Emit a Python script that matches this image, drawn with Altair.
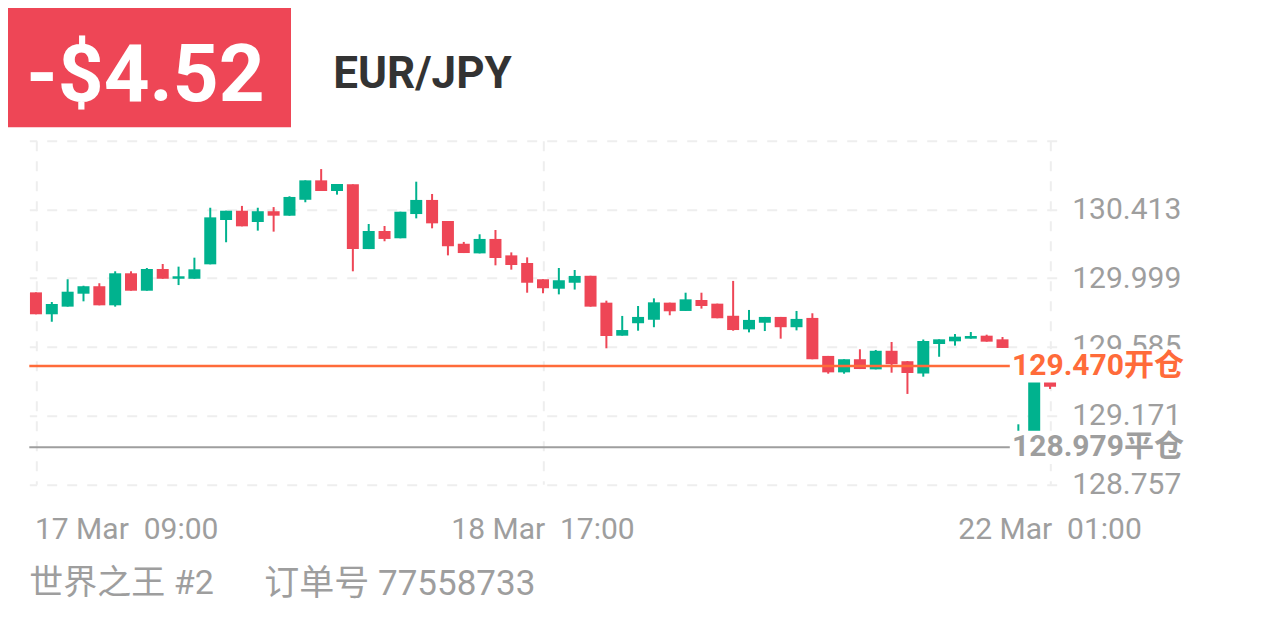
import altair as alt
import pandas as pd

# ---- data (hourly EUR/JPY candles) ----
opens = [129.913, 129.781, 129.827, 129.905, 129.950, 129.835, 130.028, 129.923, 130.054, 129.995,
         129.995, 130.082, 130.349, 130.405, 130.337, 130.402, 130.375, 130.471, 130.588, 130.524,
         130.564, 130.174, 130.283, 130.239, 130.385, 130.470, 130.343, 130.206, 130.148, 130.235,
         130.136, 130.090, 129.992, 129.935, 129.971, 130.013, 129.851, 129.652, 129.727, 129.748,
         129.851, 129.801, 129.867, 129.845, 129.772, 129.690, 129.730, 129.765, 129.703, 129.759,
         129.530, 129.431, 129.510, 129.449, 129.561, 129.498, 129.424, 129.602, 129.618, 129.634,
         129.652, 129.630, 128.963, 128.951, 129.385]
highs = [129.913, 129.855, 129.992, 129.953, 129.968, 130.040, 130.040, 130.060, 130.084, 130.068,
         130.122, 130.423, 130.405, 130.434, 130.423, 130.427, 130.492, 130.588, 130.656, 130.566,
         130.564, 130.325, 130.313, 130.399, 130.580, 130.506, 130.343, 130.217, 130.263, 130.289,
         130.154, 130.124, 129.992, 130.060, 130.048, 130.013, 129.863, 129.771, 129.831, 129.877,
         129.851, 129.911, 129.911, 129.845, 129.982, 129.807, 129.765, 129.765, 129.801, 129.787,
         129.530, 129.510, 129.570, 129.566, 129.614, 129.499, 129.629, 129.630, 129.662, 129.674,
         129.658, 129.644, 129.118, 129.445, 129.397]
lows = [129.781, 129.736, 129.827, 129.859, 129.835, 129.827, 129.923, 129.923, 129.995, 129.957,
        129.995, 130.082, 130.215, 130.311, 130.285, 130.279, 130.375, 130.456, 130.524, 130.502,
        130.040, 130.174, 130.221, 130.239, 130.359, 130.299, 130.136, 130.150, 130.148, 130.076,
        130.050, 129.911, 129.907, 129.901, 129.930, 129.827, 129.576, 129.652, 129.682, 129.703,
        129.775, 129.801, 129.815, 129.757, 129.682, 129.672, 129.680, 129.634, 129.684, 129.510,
        129.423, 129.423, 129.451, 129.449, 129.429, 129.301, 129.405, 129.525, 129.592, 129.634,
        129.616, 129.578, 128.915, 128.933, 129.331]
closes = [129.781, 129.843, 129.917, 129.950, 129.835, 130.028, 129.923, 130.054, 129.995, 130.010,
          130.052, 130.365, 130.405, 130.311, 130.402, 130.375, 130.488, 130.588, 130.524, 130.566,
          130.174, 130.283, 130.235, 130.399, 130.470, 130.329, 130.191, 130.150, 130.235, 130.120,
          130.078, 129.971, 129.938, 129.986, 130.012, 129.827, 129.650, 129.686, 129.765, 129.853,
          129.799, 129.871, 129.831, 129.757, 129.686, 129.747, 129.765, 129.703, 129.753, 129.510,
          129.431, 129.510, 129.451, 129.561, 129.480, 129.427, 129.620, 129.630, 129.646, 129.650,
          129.616, 129.578, 129.047, 129.415, 129.345]

y_ticks = [130.827, 130.413, 129.999, 129.585, 129.171, 128.757]
time_idx = [0, 32, 64]
time_labels = ["17 Mar\u00a0 09:00", "18 Mar\u00a0 17:00", "22 Mar\u00a0 01:00"]

open_price = 129.470
close_price = 128.979
level_prices = [open_price, close_price]
level_suffix = ["开仓", "平仓"]
level_colors = ["#ff6b3a", "#9e9e9e"]

pnl_text = "-$4.52"
symbol_text = "EUR/JPY"
footer_left = "世界之王 #2"
footer_right = "订单号 77558733"

GREEN = "#00b28e"
RED = "#ee4656"
GREY = "#9e9e9e"

W, H = 1027.4, 343.5

candles = pd.DataFrame({"i": list(range(len(opens))), "open": opens, "high": highs,
                        "low": lows, "close": closes})

xscale = alt.Scale(domain=[-0.42, 64.42], nice=False, zero=False, padding=0)
yscale = alt.Scale(domain=[128.757, 130.827], nice=False, zero=False, padding=0)

x_axis = alt.Axis(values=time_idx, grid=True, labels=False, ticks=False, domain=False,
                  gridDash=[10, 10], gridColor="#eeeeee", gridWidth=2, title=None)
y_axis = alt.Axis(orient="right", values=y_ticks, grid=True, ticks=False, domain=False,
                  gridDash=[10, 10], gridColor="#eeeeee", gridWidth=2, title=None,
                  labelExpr="datum.value > 130.8 ? '' : format(datum.value, '.3f')",
                  labelFont="Roboto", labelFontSize=30, labelColor=GREY,
                  labelPadding=15, labelBaseline="middle")

color_cond = alt.condition("datum.close >= datum.open", alt.value(GREEN), alt.value(RED))

wicks = alt.Chart(candles).mark_rule(strokeWidth=2).encode(
    x=alt.X("i:Q", scale=xscale, axis=x_axis),
    y=alt.Y("low:Q", scale=yscale, axis=y_axis),
    y2="high:Q",
    color=color_cond,
)

bodies = alt.Chart(candles).mark_bar(size=12).encode(
    x=alt.X("i:Q", scale=xscale, axis=x_axis),
    y=alt.Y("open:Q", scale=yscale, axis=y_axis),
    y2="close:Q",
    color=color_cond,
)

levels = pd.DataFrame({"price": level_prices, "c": level_colors,
                       "label": [f"{p:.3f}{s}" for p, s in zip(level_prices, level_suffix)]})
levels["lo"] = levels["price"] - 0.1
levels["hi"] = levels["price"] + 0.1
levels["tlo"] = levels["price"] - 0.04
levels["thi"] = levels["price"] + 0.04

LINE_END = 982.7
BOX_START = 980.5

level_lines = alt.Chart(levels).mark_rule().encode(
    y=alt.Y("price:Q", scale=yscale, axis=y_axis),
    x=alt.value(0), x2=alt.value(LINE_END),
    color=alt.Color("c:N", scale=None),
    strokeWidth=alt.condition("datum.price > 129.2", alt.value(2.5), alt.value(2)),
)

end_tick = alt.Chart(levels[levels["price"] == close_price]).mark_rule(strokeWidth=1.5, color="#9e9e9e").encode(
    x=alt.value(LINE_END),
    y=alt.Y("tlo:Q", scale=yscale, axis=y_axis), y2="thi:Q",
)

label_box = alt.Chart(levels).mark_rect(color="white").encode(
    x=alt.value(BOX_START), x2=alt.value(1170),
    y=alt.Y("lo:Q", scale=yscale, axis=y_axis), y2="hi:Q",
)

label_text = alt.Chart(levels).mark_text(align="left", baseline="middle", font="Roboto, Noto Sans CJK SC",
                                         fontSize=30, fontWeight="bold").encode(
    x=alt.value(LINE_END),
    y=alt.Y("price:Q", scale=yscale, axis=y_axis),
    text="label:N",
    color=alt.Color("c:N", scale=None),
)

times = pd.DataFrame({"i": time_idx, "t": time_labels})
time_first = alt.Chart(times.iloc[:1]).mark_text(align="left", baseline="middle", font="Roboto",
                                                 fontSize=30, color=GREY, dx=-1).encode(
    x=alt.X("i:Q", scale=xscale, axis=x_axis), y=alt.value(389.3), text="t:N")
time_rest = alt.Chart(times.iloc[1:]).mark_text(align="center", baseline="middle", font="Roboto",
                                                fontSize=30, color=GREY).encode(
    x=alt.X("i:Q", scale=xscale, axis=x_axis), y=alt.value(389.3), text="t:N")

one = pd.DataFrame({"pnl": [pnl_text], "sym": [symbol_text], "fl": [footer_left], "fr": [footer_right]})

header_box = alt.Chart(one).mark_rect(color=RED).encode(
    x=alt.value(-25), x2=alt.value(261.7), y=alt.value(-145), y2=alt.value(-13.4))
header_pnl = alt.Chart(one).mark_text(align="left", baseline="alphabetic", font="Roboto",
                                      fontSize=80, fontWeight="bold", color="white").encode(
    x=alt.value(-3.0), y=alt.value(-39.7), text="pnl:N")
header_sym = alt.Chart(one).mark_text(align="left", baseline="alphabetic", font="Roboto",
                                      fontSize=44, fontWeight="bold", color="#333333").encode(
    x=alt.value(304), y=alt.value(-53.2), text="sym:N")
foot_l = alt.Chart(one).mark_text(align="left", baseline="middle", font="Roboto, Noto Sans CJK SC",
                                  fontSize=34, color=GREY).encode(
    x=alt.value(0), y=alt.value(443), text="fl:N")
foot_r = alt.Chart(one).mark_text(align="left", baseline="middle", font="Roboto, Noto Sans CJK SC",
                                  fontSize=35, color=GREY).encode(
    x=alt.value(235), y=alt.value(443), text="fr:N")

chart = alt.layer(
    wicks, bodies, level_lines, end_tick, label_box, label_text,
    time_first, time_rest, header_box, header_pnl, header_sym, foot_l, foot_r,
).properties(
    width=W, height=H,
    autosize=alt.AutoSizeParams(type="none"),
    padding={"left": 21.3, "top": 132.7, "right": 201.3, "bottom": 140.8},
).configure(background="white").configure_view(stroke=None)

chart.save("out.html", embed_options={"renderer": "svg", "actions": False})
